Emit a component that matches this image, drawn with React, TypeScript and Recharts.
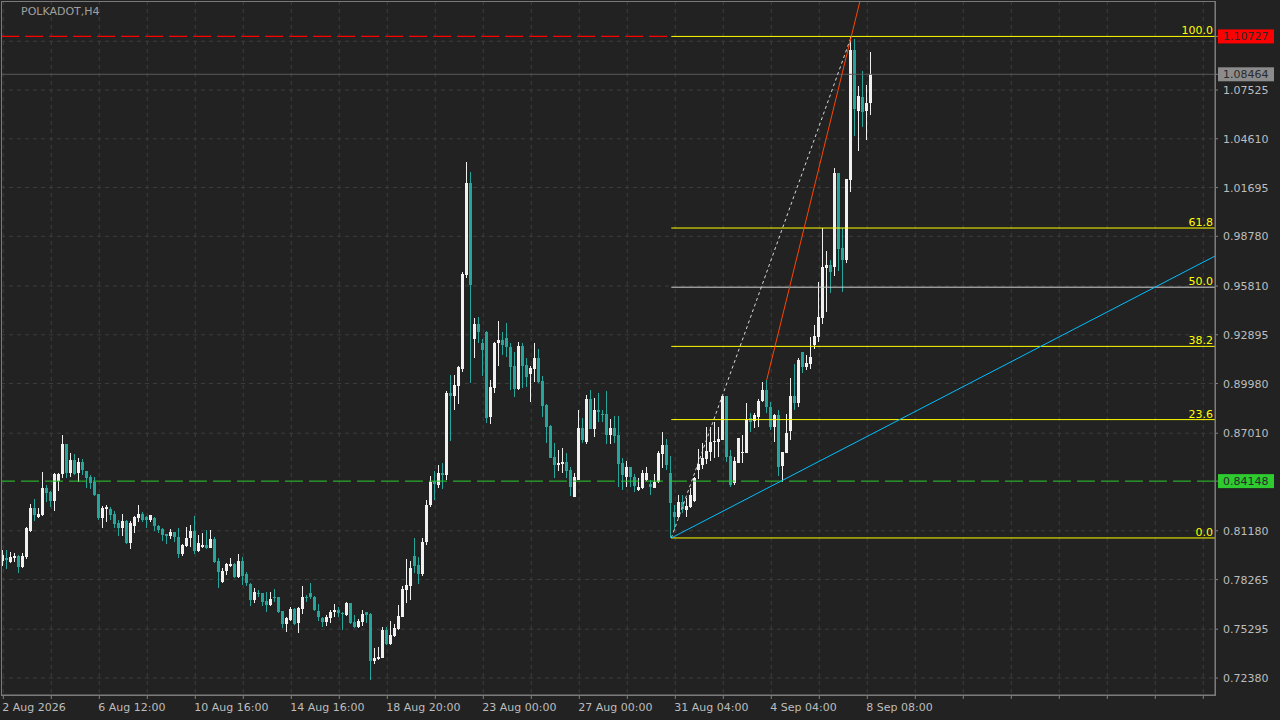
import { Bar, CartesianGrid, ComposedChart, ReferenceLine, XAxis, YAxis } from "recharts";

// POLKADOT H4 candles (oldest first)
const OPEN = [
  0.7937, 0.7955, 0.7931, 0.7955, 0.7967, 0.7901, 0.7961, 0.8117, 0.8254, 0.82, 0.8212, 0.8374, 0.835, 0.8296, 0.8416, 0.8457,
  0.8637, 0.8463, 0.8541, 0.8463, 0.8529, 0.8475, 0.8439, 0.841, 0.8338, 0.8194, 0.8248, 0.8248, 0.8218, 0.8165, 0.8135, 0.8177,
  0.8045, 0.8147, 0.8194, 0.8218, 0.82, 0.8183, 0.8194, 0.8147, 0.8129, 0.8099, 0.8087, 0.8111, 0.8081, 0.7979, 0.8027, 0.8075,
  0.8117, 0.7997, 0.8021, 0.8033, 0.8015, 0.8069, 0.7937, 0.7812, 0.7878, 0.7907, 0.7919, 0.7842, 0.7937, 0.786, 0.78, 0.7704,
  0.7746, 0.7746, 0.7698, 0.7674, 0.7722, 0.7722, 0.7639, 0.7561, 0.7585, 0.7651, 0.7567, 0.7651, 0.7722, 0.7746, 0.7722, 0.7639,
  0.7597, 0.7573, 0.7597, 0.7633, 0.7645, 0.7627, 0.7615, 0.7686, 0.7573, 0.7543, 0.7573, 0.7633, 0.7621, 0.734, 0.7352, 0.7358,
  0.7525, 0.7441, 0.7489, 0.7531, 0.7603, 0.7764, 0.7788, 0.7967, 0.7913, 0.786, 0.8051, 0.8272, 0.8416, 0.8392, 0.8463, 0.8451,
  0.8941, 0.8923, 0.8983, 0.9085, 0.9646, 1.0196, 0.9264, 0.9354, 0.924, 0.9306, 0.8798, 0.8971, 0.924, 0.9258, 0.927, 0.9216,
  0.9103, 0.8965, 0.9222, 0.9109, 0.9055, 0.9085, 0.9151, 0.9013, 0.887, 0.8744, 0.8559, 0.8511, 0.8517, 0.8529, 0.8481, 0.832,
  0.8422, 0.8732, 0.8649, 0.8906, 0.8726, 0.884, 0.8816, 0.8816, 0.869, 0.8732, 0.869, 0.8523, 0.8439, 0.8499, 0.8439, 0.8362,
  0.8374, 0.8422, 0.8398, 0.8374, 0.841, 0.8577, 0.8631, 0.8463, 0.823, 0.82, 0.829, 0.8242, 0.826, 0.8296, 0.8481, 0.8511,
  0.8547, 0.8589, 0.8649, 0.8649, 0.8661, 0.8923, 0.8565, 0.8404, 0.8523, 0.8583, 0.8583, 0.8792, 0.8774, 0.8798, 0.8894, 0.8959,
  0.8858, 0.8738, 0.881, 0.8505, 0.8583, 0.8714, 0.8923, 0.8882, 0.9186, 0.9097, 0.9115, 0.9228, 0.9276, 0.939, 0.9688, 0.9706,
  0.9694, 1.0256, 0.9808, 0.9736, 1.0214, 1.0992, 1.0627, 1.0711, 1.0627, 1.0675,
];
const HIGH = [
  0.8003, 0.8003, 0.7991, 0.7985, 0.7973, 0.7985, 0.8141, 0.8278, 0.8308, 0.8254, 0.8469, 0.8392, 0.8356, 0.8463, 0.8463, 0.869,
  0.8637, 0.8583, 0.8577, 0.8553, 0.8547, 0.8475, 0.8451, 0.8439, 0.8338, 0.8266, 0.8272, 0.826, 0.8236, 0.8183, 0.8218, 0.8183,
  0.8177, 0.8206, 0.8272, 0.823, 0.8206, 0.8212, 0.82, 0.8153, 0.8135, 0.8099, 0.8129, 0.8111, 0.8135, 0.8039, 0.8141, 0.8153,
  0.8206, 0.8093, 0.8105, 0.8123, 0.8123, 0.8081, 0.7955, 0.7895, 0.7925, 0.7955, 0.7925, 0.7979, 0.7961, 0.7872, 0.7806, 0.7776,
  0.7764, 0.7746, 0.7752, 0.7752, 0.777, 0.7722, 0.7639, 0.7603, 0.7662, 0.7656, 0.7662, 0.7788, 0.7734, 0.7806, 0.7728, 0.768,
  0.7603, 0.7615, 0.7645, 0.768, 0.7662, 0.7633, 0.7692, 0.7686, 0.7615, 0.7591, 0.7645, 0.7633, 0.7627, 0.7418, 0.7424, 0.7543,
  0.7543, 0.7579, 0.7561, 0.7674, 0.7788, 0.7949, 0.7937, 0.8075, 0.7961, 0.8075, 0.8302, 0.8445, 0.8475, 0.8511, 0.8523, 0.8953,
  0.9049, 0.9049, 0.9103, 0.9664, 1.0322, 1.0262, 0.939, 0.9396, 0.9264, 0.9312, 0.9019, 0.9246, 0.9372, 0.9306, 0.936, 0.924,
  0.9186, 0.9246, 0.924, 0.9151, 0.9103, 0.924, 0.9204, 0.9043, 0.8876, 0.875, 0.8643, 0.8601, 0.8613, 0.8583, 0.8499, 0.8463,
  0.884, 0.8792, 0.8929, 0.8959, 0.8912, 0.8941, 0.884, 0.8953, 0.8786, 0.8804, 0.8804, 0.8553, 0.8535, 0.8499, 0.8457, 0.8433,
  0.8481, 0.8499, 0.8422, 0.8457, 0.8595, 0.8708, 0.8667, 0.8565, 0.8272, 0.8332, 0.8332, 0.8314, 0.8374, 0.8439, 0.8607, 0.8643,
  0.8738, 0.8738, 0.8768, 0.8738, 0.8929, 0.8923, 0.8601, 0.8559, 0.8673, 0.869, 0.8882, 0.8822, 0.8822, 0.8906, 0.9007, 0.9019,
  0.8888, 0.8816, 0.884, 0.8589, 0.8816, 0.9031, 0.9115, 0.9151, 0.9186, 0.9168, 0.9276, 0.9348, 0.9605, 0.9928, 0.979, 0.9736,
  1.0286, 1.0256, 0.9928, 1.022, 1.1069, 1.1057, 1.0776, 1.0866, 1.0782, 1.098,
];
const LOW = [
  0.7907, 0.7889, 0.7925, 0.7931, 0.7866, 0.7895, 0.7949, 0.8111, 0.8177, 0.8194, 0.8206, 0.829, 0.826, 0.8236, 0.8356, 0.8433,
  0.8433, 0.8439, 0.8451, 0.841, 0.8451, 0.8374, 0.8368, 0.8326, 0.8183, 0.8135, 0.8171, 0.8183, 0.8135, 0.8087, 0.8087, 0.8039,
  0.8009, 0.8105, 0.8171, 0.8171, 0.8135, 0.8171, 0.8117, 0.8105, 0.8057, 0.8039, 0.8069, 0.8051, 0.7955, 0.7967, 0.8021, 0.8021,
  0.7979, 0.7991, 0.8015, 0.8009, 0.8015, 0.7925, 0.7776, 0.7806, 0.7854, 0.7901, 0.7836, 0.7836, 0.7794, 0.7788, 0.7668, 0.7686,
  0.7722, 0.7668, 0.7633, 0.7668, 0.7692, 0.7627, 0.7537, 0.7513, 0.7579, 0.7555, 0.7507, 0.7621, 0.7692, 0.771, 0.7639, 0.7579,
  0.7543, 0.7549, 0.7567, 0.7603, 0.7603, 0.7525, 0.7609, 0.7561, 0.7537, 0.7537, 0.7549, 0.7567, 0.7226, 0.7322, 0.7346, 0.7358,
  0.7435, 0.7435, 0.7483, 0.7525, 0.7603, 0.7686, 0.7704, 0.7866, 0.78, 0.7848, 0.8033, 0.826, 0.8302, 0.8374, 0.8368, 0.8422,
  0.8655, 0.884, 0.8876, 0.9067, 0.9628, 0.9001, 0.9151, 0.924, 0.9043, 0.8762, 0.8756, 0.8941, 0.9103, 0.9168, 0.9157, 0.8959,
  0.8917, 0.8959, 0.8971, 0.8977, 0.8888, 0.9007, 0.9001, 0.8798, 0.8643, 0.8553, 0.8433, 0.8475, 0.8463, 0.8433, 0.8326, 0.832,
  0.8422, 0.8643, 0.8637, 0.8726, 0.8678, 0.8768, 0.8768, 0.8637, 0.8637, 0.8643, 0.838, 0.8362, 0.838, 0.838, 0.835, 0.8356,
  0.8368, 0.8416, 0.8332, 0.8374, 0.8404, 0.8493, 0.8481, 0.8075, 0.8123, 0.8194, 0.8224, 0.82, 0.8254, 0.829, 0.8427, 0.8487,
  0.8517, 0.8535, 0.8553, 0.8559, 0.8661, 0.8529, 0.838, 0.8392, 0.8523, 0.8523, 0.8583, 0.8708, 0.8732, 0.8738, 0.8888, 0.8822,
  0.872, 0.8649, 0.8445, 0.841, 0.8583, 0.8661, 0.884, 0.8858, 0.9061, 0.9079, 0.9085, 0.9204, 0.9246, 0.9354, 0.9425, 0.9539,
  0.964, 0.967, 0.9545, 0.9718, 1.0143, 1.0477, 1.0388, 1.0531, 1.0454, 1.0603,
];
const CLOSE = [
  0.7973, 0.7943, 0.7961, 0.7967, 0.7901, 0.7967, 0.8135, 0.8254, 0.8212, 0.8218, 0.8374, 0.8344, 0.8296, 0.8457, 0.8457, 0.8637,
  0.8463, 0.8541, 0.8457, 0.8529, 0.8481, 0.8433, 0.8404, 0.8332, 0.8194, 0.8254, 0.826, 0.8212, 0.8159, 0.8135, 0.8177, 0.8045,
  0.8165, 0.82, 0.8218, 0.8183, 0.8183, 0.8212, 0.8147, 0.8123, 0.8093, 0.8087, 0.8111, 0.8081, 0.7979, 0.8033, 0.8075, 0.8117,
  0.7997, 0.8045, 0.8033, 0.8015, 0.8069, 0.7931, 0.7872, 0.7878, 0.7919, 0.7919, 0.7842, 0.7937, 0.7848, 0.7806, 0.7704, 0.7752,
  0.774, 0.7692, 0.7674, 0.771, 0.7716, 0.7633, 0.7561, 0.7597, 0.7651, 0.7561, 0.7656, 0.7722, 0.7716, 0.7722, 0.7645, 0.7603,
  0.7573, 0.7603, 0.7633, 0.7645, 0.7627, 0.7621, 0.7686, 0.7567, 0.7543, 0.7579, 0.7621, 0.7615, 0.734, 0.7358, 0.7364, 0.7525,
  0.7441, 0.7495, 0.7537, 0.7609, 0.777, 0.7794, 0.7895, 0.7907, 0.786, 0.8051, 0.8272, 0.841, 0.8398, 0.8463, 0.8451, 0.8941,
  0.8923, 0.8989, 0.9097, 0.9652, 1.0196, 0.9587, 0.9354, 0.9306, 0.9198, 0.8792, 0.8977, 0.924, 0.9258, 0.9228, 0.9216, 0.9097,
  0.8965, 0.9222, 0.9103, 0.9037, 0.9091, 0.9151, 0.9007, 0.8864, 0.8738, 0.8553, 0.8511, 0.8523, 0.8529, 0.8475, 0.838, 0.8439,
  0.8732, 0.8661, 0.8906, 0.8726, 0.884, 0.8828, 0.881, 0.869, 0.8732, 0.8684, 0.8517, 0.8451, 0.8499, 0.8439, 0.8386, 0.838,
  0.8463, 0.8463, 0.838, 0.841, 0.8583, 0.8631, 0.8511, 0.8284, 0.82, 0.829, 0.8248, 0.8266, 0.8332, 0.8433, 0.8517, 0.8553,
  0.8595, 0.8649, 0.8655, 0.8667, 0.8923, 0.8559, 0.8392, 0.8535, 0.8673, 0.8589, 0.8786, 0.8768, 0.881, 0.8894, 0.8959, 0.8858,
  0.8738, 0.881, 0.8499, 0.8589, 0.8702, 0.8923, 0.8882, 0.9139, 0.9097, 0.9121, 0.9157, 0.9282, 0.9396, 0.9694, 0.9706, 0.9664,
  1.0256, 0.9802, 0.9736, 1.022, 1.0992, 1.0639, 1.0717, 1.0621, 1.0675, 1.08464,
];

// right price scale
const PRICE_TICKS = [1.07525, 1.0461, 1.01695, 0.9878, 0.9581, 0.92895, 0.8998, 0.8701, 0.8118, 0.78265, 0.75295, 0.7238];
const GRID_PRICES = [1.1044, ...PRICE_TICKS];

// bottom time scale: a tick every 12 bars, a label every 24
const TIME_TICKS = Array.from({ length: 26 }, (_, k) => k * 12);
const DATE_LABELS = [
  "2 Aug 2026",
  "6 Aug 12:00",
  "10 Aug 16:00",
  "14 Aug 16:00",
  "18 Aug 20:00",
  "23 Aug 00:00",
  "27 Aug 00:00",
  "31 Aug 04:00",
  "4 Sep 04:00",
  "8 Sep 08:00",
];

// price tags drawn on the axis
const TAG_PRICES = [1.10727, 1.08464, 0.84148];
const TAG_FILLS = ["#ff0000", "#8c8c8c", "#2ecc2e"];

// fibonacci retracement anchors (bar index, price)
const FIB_LOW = { i: 167, p: 0.8075 };
const FIB_HIGH = { i: 212, p: 1.10727 };
const FIB_LEVELS = [0, 23.6, 38.2, 50, 61.8, 100];

// trend lines
const BLUE_LINE = [{ i: 167, p: 0.8075 }, { i: 302.925, p: 0.976 }];
const RED_LINE = [{ i: 190.85, p: 0.9019 }, { i: 214.17, p: 1.1284 }];

const X_DOMAIN = [-0.575, 302.925];
const Y_DOMAIN = [0.71364, 1.12845];

const BG = "#222222";
const GRID = "#3d3d3d";
const AXIS = "#808080";
const TEXT = "#bdbdbd";
const BULL = "#f0f0f0";
const BEAR = "#26a69a";
const FONT = "'DejaVu Sans', Verdana, sans-serif";
const FS = 11;

function Candle(props: any) {
  const { x, y, width, height, payload } = props;
  if (x == null || y == null || !payload) return null;
  const { open, high, low, close } = payload;
  const top = Math.min(y, y + height);
  const h = Math.abs(height);
  const k = h / (high - low || 1);
  const left = Math.round(x + width / 2 - 1.5);
  const yo = top + (high - open) * k;
  const yc = top + (high - close) * k;
  const color = close >= open ? BULL : BEAR;
  const wickTop = Math.round(top);
  const wickBot = Math.max(Math.round(top + h), wickTop + 1);
  const bTop = Math.round(Math.min(yo, yc));
  const bBot = Math.max(Math.round(Math.max(yo, yc)), bTop + 1);
  return (
    <g>
      <rect x={left + 1} y={wickTop} width={1} height={wickBot - wickTop} fill={color} />
      <rect x={left} y={bTop} width={3} height={bBot - bTop} fill={color} />
    </g>
  );
}

function TimeTick(props: any) {
  const { x, y, payload } = props;
  const v = payload.value;
  if (v % 24 !== 0) return null;
  const label = DATE_LABELS[v / 24];
  if (!label) return null;
  return (
    <text x={x - 1} y={y + 10} fill={TEXT} fontSize={FS} fontFamily={FONT}>
      {label}
    </text>
  );
}

function PriceTick(props: any) {
  const { x, y, payload } = props;
  const v = payload.value;
  const tag = TAG_PRICES.indexOf(v);
  if (tag >= 0) {
    return (
      <g>
        <rect x={x - 2} y={y - 7} width={56} height={14} fill={TAG_FILLS[tag]} />
        <text x={x + 3} y={y + 4} fill="#2b2b2b" fontSize={FS} fontFamily={FONT}>
          {v.toFixed(5)}
        </text>
      </g>
    );
  }
  return (
    <text x={x + 3} y={y + 4} fill={TEXT} fontSize={FS} fontFamily={FONT}>
      {v.toFixed(5)}
    </text>
  );
}

function fibLabel(text: string) {
  return (props: any) => {
    const vb = props.viewBox;
    if (!vb) return null;
    return (
      <text x={vb.x + vb.width - 2} y={vb.y - 2} textAnchor="end" fill="#ffff00" fontSize={FS} fontFamily={FONT}>
        {text}
      </text>
    );
  };
}

export default function App() {
  const data = OPEN.map((open, i) => ({ i, open, high: HIGH[i], low: LOW[i], close: CLOSE[i] }));
  const fibRange = FIB_HIGH.p - FIB_LOW.p;

  return (
    <div style={{ position: "fixed", left: 0, top: 0, width: 1280, height: 720, background: BG, fontFamily: FONT }}>
      <ComposedChart width={1280} height={720} data={data} margin={{ top: 1, right: 0, bottom: 0, left: 1 }}>
        <CartesianGrid
          stroke={GRID}
          strokeDasharray="4 4"
          horizontalValues={GRID_PRICES}
          verticalValues={TIME_TICKS}
        />
        <XAxis
          dataKey="i"
          type="number"
          domain={X_DOMAIN}
          allowDataOverflow
          ticks={TIME_TICKS}
          interval={0}
          height={25}
          axisLine={{ stroke: AXIS }}
          tickLine={{ stroke: AXIS }}
          tickSize={4}
          tick={<TimeTick />}
        />
        <YAxis
          orientation="right"
          type="number"
          domain={Y_DOMAIN}
          allowDataOverflow
          ticks={[...PRICE_TICKS, ...TAG_PRICES]}
          interval={0}
          width={65}
          axisLine={{ stroke: AXIS }}
          tickLine={{ stroke: AXIS }}
          tickSize={3}
          tick={<PriceTick />}
        />
        <Bar
          dataKey={(d: any) => [d.low, d.high]}
          barSize={3}
          isAnimationActive={false}
          shape={(p: any) => <Candle {...p} />}
        />

        <ReferenceLine y={1.08464} stroke="#5a5a5a" ifOverflow="visible" />
        <ReferenceLine y={0.84148} stroke="#2ecc2e" strokeDasharray="18 6" ifOverflow="visible" />
        <ReferenceLine
          segment={[
            { x: X_DOMAIN[0], y: TAG_PRICES[0] },
            { x: FIB_LOW.i, y: TAG_PRICES[0] },
          ]}
          stroke="#ff0000"
          strokeWidth={1.3}
          strokeDasharray="18 6"
          ifOverflow="visible"
        />

        {FIB_LEVELS.map((lv) => {
          const p = FIB_LOW.p + (fibRange * lv) / 100;
          return (
            <ReferenceLine
              key={lv}
              segment={[
                { x: FIB_LOW.i, y: p },
                { x: X_DOMAIN[1], y: p },
              ]}
              stroke={lv === 50 ? "#d0d0d0" : "#ffff00"}
              ifOverflow="visible"
              label={fibLabel(lv.toFixed(1))}
            />
          );
        })}
        <ReferenceLine
          segment={[
            { x: FIB_LOW.i, y: FIB_LOW.p },
            { x: FIB_HIGH.i, y: FIB_HIGH.p },
          ]}
          stroke="#d8d8d8"
          strokeDasharray="3 3"
          ifOverflow="visible"
        />
        <ReferenceLine
          segment={[
            { x: BLUE_LINE[0].i, y: BLUE_LINE[0].p },
            { x: BLUE_LINE[1].i, y: BLUE_LINE[1].p },
          ]}
          stroke="#00bfff"
          ifOverflow="visible"
        />
        <ReferenceLine
          segment={[
            { x: RED_LINE[0].i, y: RED_LINE[0].p },
            { x: RED_LINE[1].i, y: RED_LINE[1].p },
          ]}
          stroke="#ff4500"
          ifOverflow="visible"
        />
      </ComposedChart>
      <div
        style={{
          position: "absolute",
          left: 1,
          top: 1,
          width: 1215,
          height: 695,
          border: "1px solid #7a7a7a",
          boxSizing: "border-box",
          pointerEvents: "none",
        }}
      />
      <div style={{ position: "absolute", left: 21, top: 5, color: "#a0a0a0", fontSize: FS, fontFamily: FONT }}>
        POLKADOT,H4
      </div>
    </div>
  );
}
